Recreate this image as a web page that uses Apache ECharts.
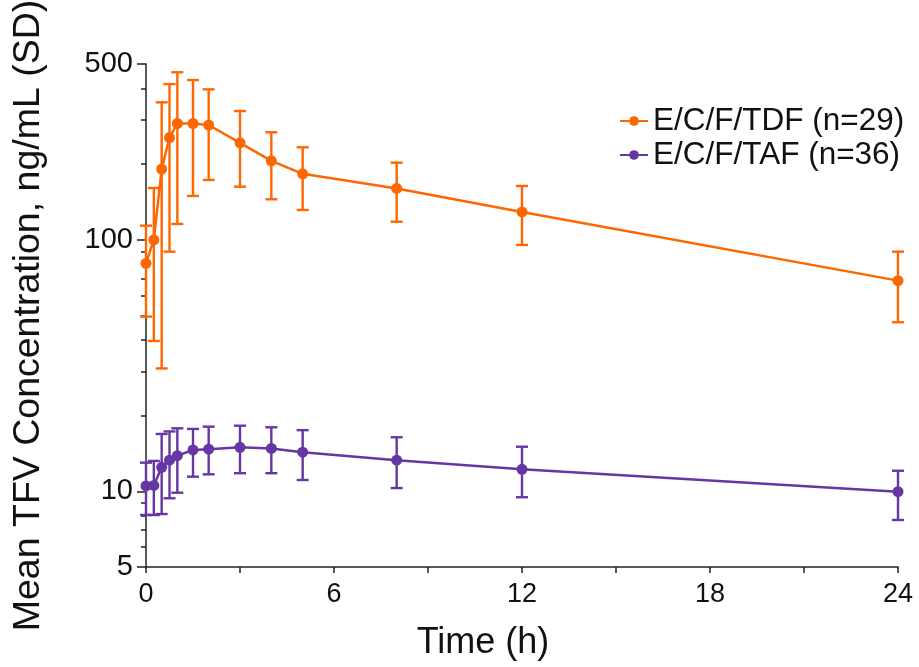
<!DOCTYPE html>
<html>
<head>
<meta charset="utf-8">
<script src="https://cdn.jsdelivr.net/npm/echarts@6/dist/echarts.min.js"></script>
<style>
html,body{margin:0;padding:0;background:#fff;}
#c{width:919px;height:667px;}
</style>
</head>
<body>
<div id="c"></div>
<script>
// ---- data ----
const times = [0, 0.25, 0.5, 0.75, 1, 1.5, 2, 3, 4, 5, 8, 12, 24];
const tdfMean = [80.6, 100, 191, 255, 290, 290, 286, 243, 206, 183, 160, 129, 68.8];
const tdfLow  = [49.5, 39.6, 30.8, 89.7, 115.6, 149.4, 172.9, 162.6, 144.9, 131.4, 118, 95.4, 47];
const tdfHigh = [113.8, 160.7, 352, 416, 463.5, 431.7, 396.5, 325, 267.6, 233.2, 202.6, 163.7, 89.7];
const tafMean = [10.5, 10.55, 12.46, 13.3, 13.86, 14.6, 14.7, 14.96, 14.8, 14.3, 13.3, 12.23, 9.96];
const tafLow  = [8.05, 8.05, 8.12, 9.38, 9.87, 11.43, 11.68, 11.8, 11.8, 11.09, 10.3, 9.47, 7.69];
const tafHigh = [13.0, 13.2, 16.9, 17.3, 17.8, 17.7, 18.07, 18.23, 17.97, 17.5, 16.4, 15.04, 12.07];
const seriesNames = ['E/C/F/TDF (n=29)', 'E/C/F/TAF (n=36)'];
const xLabelValues = [0, 6, 12, 18, 24];
const yLabelValues = [5, 10, 100, 500];
const yMinorValues = [6, 7, 8, 9, 20, 30, 40, 50, 60, 70, 80, 90, 200, 300, 400];

const ORANGE = '#FF6600';
const PURPLE = '#6636A3';
const FONT = 'Liberation Sans, Arial, sans-serif';

function errData(lo, hi) { return times.map((t, i) => [t, lo[i], hi[i]]); }
function lineData(m) { return times.map((t, i) => [t, m[i]]); }

function errRender(color) {
  return function (params, api) {
    const x = api.value(0);
    const pLo = api.coord([x, api.value(1)]);
    const pHi = api.coord([x, api.value(2)]);
    const hw = 6;
    const st = { stroke: color, lineWidth: 2.4 };
    return {
      type: 'group',
      children: [
        { type: 'line', shape: { x1: pLo[0], y1: pLo[1], x2: pHi[0], y2: pHi[1] }, style: st },
        { type: 'line', shape: { x1: pLo[0] - hw, y1: pLo[1], x2: pLo[0] + hw, y2: pLo[1] }, style: st },
        { type: 'line', shape: { x1: pHi[0] - hw, y1: pHi[1], x2: pHi[0] + hw, y2: pHi[1] }, style: st }
      ]
    };
  };
}

const chart = echarts.init(document.getElementById('c'), null, { renderer: 'canvas' });
const axisLineStyle = { color: '#222', width: 1.5 };
chart.setOption({
  animation: false,
  backgroundColor: '#fff',
  textStyle: { fontFamily: FONT },
  grid: { left: 146, right: 21, top: 64, bottom: 100, containLabel: false, outerBoundsMode: 'none' },
  legend: {
    data: seriesNames,
    orient: 'vertical',
    left: 614,
    top: 100,
    itemGap: 2,
    itemWidth: 28,
    itemHeight: 12,
    textStyle: { fontFamily: FONT, fontSize: 31.5, color: '#111', lineHeight: 32 }
  },
  xAxis: {
    type: 'value',
    min: 0,
    max: 24,
    interval: 3,
    name: 'Time (h)',
    nameLocation: 'middle',
    nameGap: 58,
    nameTextStyle: { fontFamily: FONT, fontSize: 36, color: '#111', padding: [0, 78, 0, 0] },
    axisLine: { show: true, lineStyle: axisLineStyle },
    axisTick: { show: true, length: 6, lineStyle: axisLineStyle },
    axisLabel: {
      fontFamily: FONT, fontSize: 27, color: '#111', margin: 14,
      customValues: xLabelValues
    },
    splitLine: { show: false }
  },
  yAxis: [{
    type: 'log',
    logBase: 10,
    min: 5,
    max: 500,
    name: 'Mean TFV Concentration, ng/mL (SD)',
    nameLocation: 'middle',
    nameGap: 98,
    nameTextStyle: { fontFamily: FONT, fontSize: 37.5, color: '#111' },
    axisLine: { show: true, lineStyle: axisLineStyle },
    axisTick: { show: true, length: 9, lineStyle: axisLineStyle, customValues: yLabelValues },
    axisLabel: { fontFamily: FONT, fontSize: 29, color: '#111', margin: 13, customValues: yLabelValues },
    splitLine: { show: false },
    minorTick: { show: false },
    minorSplitLine: { show: false }
  }, {
    type: 'log',
    logBase: 10,
    min: 5,
    max: 500,
    position: 'left',
    axisLine: { show: false },
    axisTick: { show: true, length: 5, lineStyle: axisLineStyle, customValues: yMinorValues },
    axisLabel: { show: false, customValues: yMinorValues },
    splitLine: { show: false }
  }],
  series: [
    {
      name: 'tdfErr', type: 'custom', renderItem: errRender(ORANGE),
      data: errData(tdfLow, tdfHigh), encode: { x: 0, y: [1, 2] }, z: 2, silent: true
    },
    {
      name: 'tafErr', type: 'custom', renderItem: errRender(PURPLE),
      data: errData(tafLow, tafHigh), encode: { x: 0, y: [1, 2] }, z: 2, silent: true
    },
    {
      name: seriesNames[0], type: 'line', data: lineData(tdfMean),
      symbol: 'circle', symbolSize: 11, color: ORANGE,
      lineStyle: { width: 2.5, color: ORANGE }, itemStyle: { color: ORANGE }, z: 3
    },
    {
      name: seriesNames[1], type: 'line', data: lineData(tafMean),
      symbol: 'circle', symbolSize: 11, color: PURPLE,
      lineStyle: { width: 2.5, color: PURPLE }, itemStyle: { color: PURPLE }, z: 3
    }
  ]
});
</script>
</body>
</html>
